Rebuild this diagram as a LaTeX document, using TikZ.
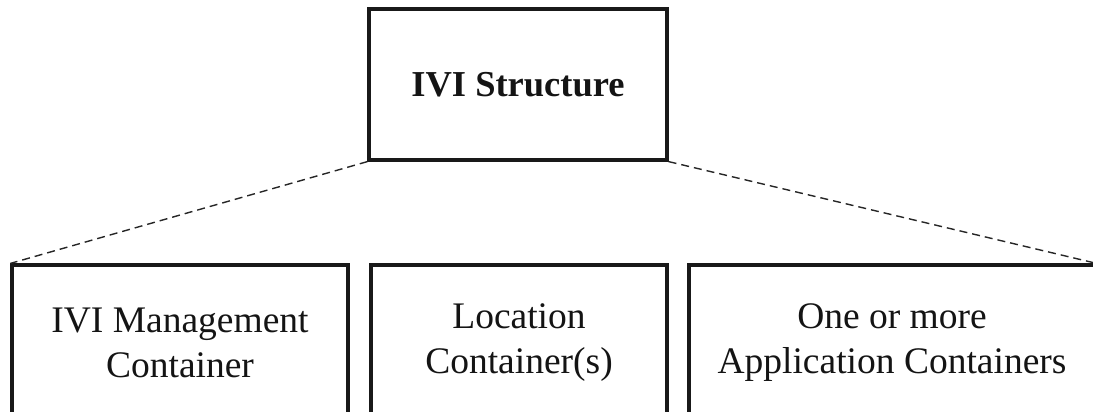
\documentclass[tikz,border=0pt]{standalone}
\usepackage{fontspec}
\setmainfont{Liberation Serif}
\begin{document}
\begin{tikzpicture}[x=1pt,y=-1pt,
  boxstyle/.style={draw=black!90, line width=3.2pt, rectangle, inner sep=0pt, align=center,
    font=\fontsize{37.5}{45}\selectfont, text=black!92},
  dashline/.style={draw=black!85, line width=1.4pt, dash pattern=on 8pt off 5pt}]
\useasboundingbox (0,0) rectangle (1093,412);
\clip (0,0) rectangle (1093,412);
\node[boxstyle, minimum width=298, minimum height=151, font=\fontsize{36.5}{45}\selectfont\bfseries] (top) at (518,84.5) {IVI Structure};
\node[boxstyle, minimum width=336, minimum height=156] (mgmt) at (180,343) {IVI Management\\Container};
\node[boxstyle, minimum width=296, minimum height=156] (loc) at (519,343) {Location\\Container(s)};
\node[boxstyle, minimum width=406, minimum height=156] (app) at (892,343) {One or more\\Application Containers};
\draw[dashline] (top.south west) -- (mgmt.north west);
\draw[dashline] (top.south east) -- (app.north east);
\end{tikzpicture}
\end{document}
